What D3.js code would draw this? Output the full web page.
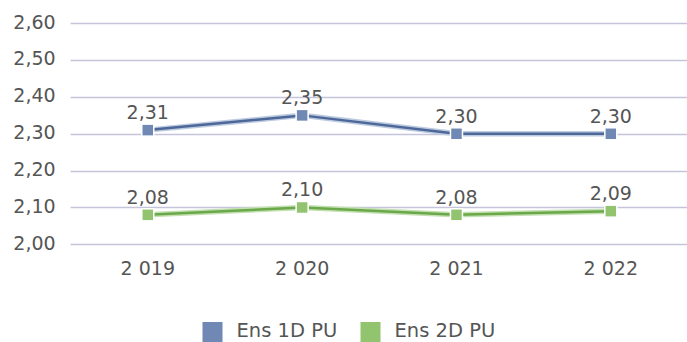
<!DOCTYPE html>
<html><head><meta charset="utf-8">
<script src="https://cdn.jsdelivr.net/npm/d3@7"></script>
<style>body{margin:0;background:#fff}svg{display:block}</style>
</head><body>
<script>
const categories = ["2 019", "2 020", "2 021", "2 022"];
const seriesNames = ["Ens 1D PU", "Ens 2D PU"];
const ens1D = [2.31, 2.35, 2.30, 2.30];
const ens2D = [2.08, 2.10, 2.08, 2.09];
const yTicks = [2.0, 2.1, 2.2, 2.3, 2.4, 2.5, 2.6];

const W = 687, H = 342;
const font = "DejaVu Sans, sans-serif";
const textColor = "#555555";
const svg = d3.select("body").append("svg").attr("width", W).attr("height", H);

const x = d3.scaleBand().domain(categories).range([70.6, 688]);
const y = d3.scaleLinear().domain([2.0, 2.6]).range([244.3, 23.3]);
const fmt = v => d3.format(".2f")(v).replace(".", ",");

// gridlines
svg.append("g").selectAll("line").data(yTicks).join("line")
  .attr("x1", 70.6).attr("x2", 687)
  .attr("y1", d => Math.round(y(d)) + 0.5).attr("y2", d => Math.round(y(d)) + 0.5)
  .attr("stroke", "#c4c4da").attr("stroke-width", 1.3);

// y axis labels
const yAxis = d3.axisLeft(y).tickValues(yTicks).tickFormat(fmt).tickSize(0).tickPadding(15);
const ga = svg.append("g").attr("transform", "translate(70.6,0)").call(yAxis);
ga.select(".domain").remove();
ga.selectAll("text").attr("font-family", font).attr("font-size", 19).attr("fill", textColor).attr("dy", "0.25em");

// x axis labels
const xAxis = d3.axisBottom(x).tickSize(0).tickPadding(17);
const gx = svg.append("g").attr("transform", "translate(0,244.3)").call(xAxis);
gx.select(".domain").remove();
gx.selectAll("text").attr("font-family", font).attr("font-size", 19).attr("fill", textColor);

const series = [
  {name: seriesNames[0], values: ens1D, halo: "#bccae0", line: "#4d6898", marker: "#6f88b4"},
  {name: seriesNames[1], values: ens2D, halo: "#c4e0b2", line: "#6aa84a", marker: "#92c36f"}
];
const cx = c => x(c) + x.bandwidth() / 2;
const line = d3.line().x((d, i) => cx(categories[i])).y(d => y(d));

series.forEach(s => {
  const g = svg.append("g");
  g.append("path").attr("d", line(s.values)).attr("fill", "none")
    .attr("stroke", s.halo).attr("stroke-width", 5.5);
  g.append("path").attr("d", line(s.values)).attr("fill", "none")
    .attr("stroke", s.line).attr("stroke-width", 2.5);
  g.selectAll("rect").data(s.values).join("rect")
    .attr("x", (d, i) => cx(categories[i]) - 6).attr("y", d => y(d) - 6)
    .attr("width", 12).attr("height", 12)
    .attr("fill", s.marker).attr("stroke", "#fff").attr("stroke-width", 1.5);
  g.selectAll("text").data(s.values).join("text")
    .attr("x", (d, i) => cx(categories[i])).attr("y", d => y(d) - 11)
    .attr("text-anchor", "middle").attr("font-family", font).attr("font-size", 19)
    .attr("fill", textColor).text(fmt);
});

// legend
const legend = [{name: seriesNames[0], color: "#6f88b4", x: 202.5}, {name: seriesNames[1], color: "#92c36f", x: 360.5}];
const lg = svg.append("g");
legend.forEach(l => {
  lg.append("rect").attr("x", l.x).attr("y", 322).attr("width", 20).attr("height", 20).attr("fill", l.color);
  lg.append("text").attr("x", l.x + 34).attr("y", 337).attr("font-family", font).attr("font-size", 19.5)
    .attr("fill", textColor).text(l.name);
});
</script>
</body></html>
